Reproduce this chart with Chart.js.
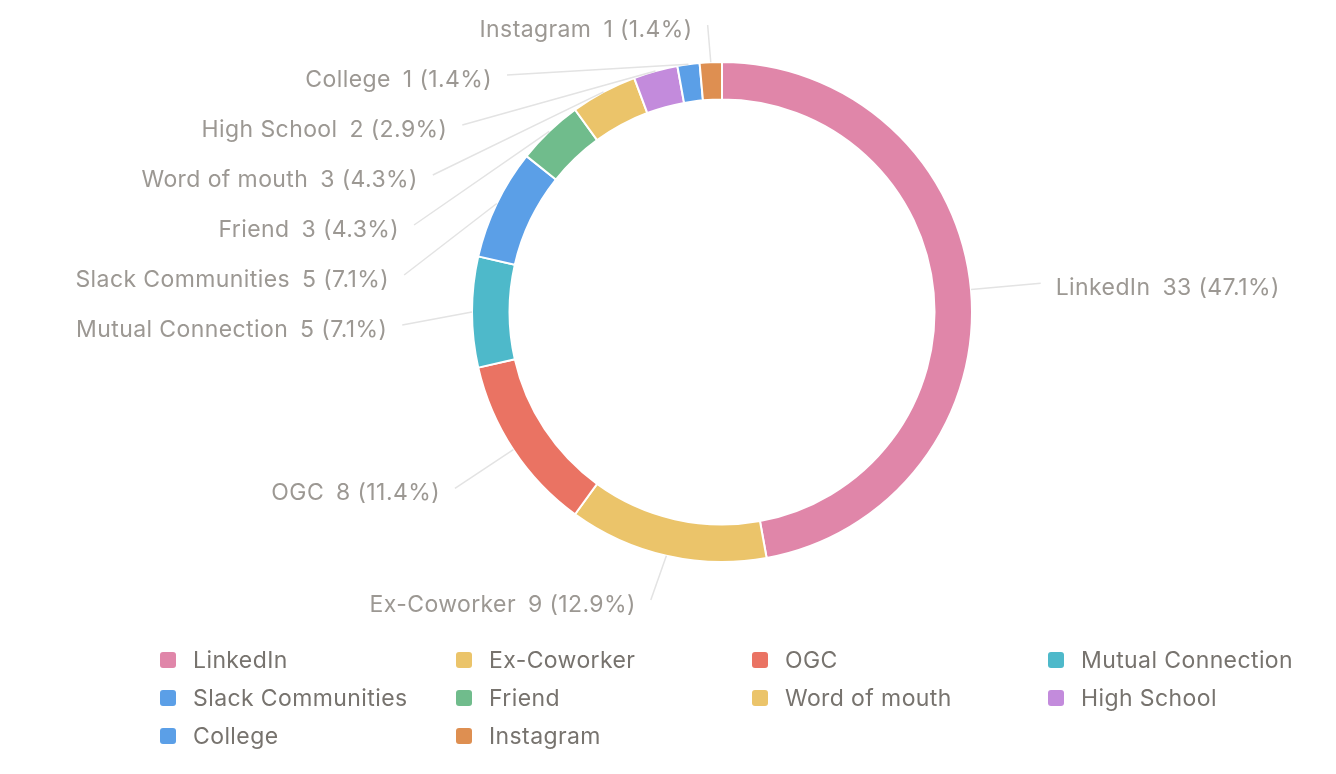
<!DOCTYPE html>
<html>
<head>
<meta charset="utf-8">
<script src="https://cdn.jsdelivr.net/npm/chart.js@4.4.1/dist/chart.umd.min.js"></script>
<style>
  html, body { margin: 0; padding: 0; background: #fff; }
  #wrap { position: relative; width: 1336px; height: 774px; }
  #legend {
    position: absolute; left: 160px; top: 641px;
    display: grid; grid-template-columns: repeat(4, 296px); grid-auto-rows: 38px;
    font-family: Inter, "Noto Sans", sans-serif; font-size: 23px; letter-spacing: 0.4px; color: #77736e;
  }
  #legend div { display: flex; align-items: center; }
  #legend span.box { width: 16px; height: 16px; border-radius: 3px; margin-right: 17px; flex: none; }
</style>
</head>
<body>
<div id="wrap">
  <canvas id="donut" width="1336" height="774"></canvas>
  <div id="legend"></div>
</div>
<script>
var sources = ['LinkedIn', 'Ex-Coworker', 'OGC', 'Mutual Connection', 'Slack Communities',
               'Friend', 'Word of mouth', 'High School', 'College', 'Instagram'];
var counts = [33, 9, 8, 5, 5, 3, 3, 2, 1, 1];
var colors = ['#e086a9', '#ebc46a', '#ea7363', '#4eb9ca', '#5b9fe7',
              '#70bc8c', '#ebc46a', '#c38bdc', '#5b9fe7', '#de8f51'];

var total = counts.reduce((a, b) => a + b, 0);

// outside labels with leader lines, spread on the left so they don't collide
var outsideLabels = {
  id: 'outsideLabels',
  afterDatasetsDraw(chart) {
    var ctx = chart.ctx;
    var arcs = chart.getDatasetMeta(0).data;
    var items = arcs.map((arc, i) => {
      var mid = (arc.startAngle + arc.endAngle) / 2;
      var R = arc.outerRadius;
      var lr = R + 70;
      return {
        i: i, cx: arc.x, cy: arc.y, lr: lr,
        sx: arc.x + Math.cos(mid) * R, sy: arc.y + Math.sin(mid) * R,
        ex: arc.x + Math.cos(mid) * lr, ey: arc.y + Math.sin(mid) * lr,
        left: Math.cos(mid) < 0
      };
    });
    var minY = 25, maxY = 600, gap = 50;
    [true, false].forEach(side => {
      var list = items.filter(d => d.left === side).sort((a, b) => a.ey - b.ey);
      var prev = -Infinity;
      list.forEach(d => {
        var y = Math.min(Math.max(d.ey, minY), maxY);
        if (y < prev + gap) {
          y = prev + gap;
          var dy = y - d.cy;
          var dx = Math.sqrt(Math.max(d.lr * d.lr - dy * dy, 0));
          d.ex = d.cx + (side ? -dx : dx);
        }
        d.ey = y;
        prev = y;
      });
    });
    ctx.save();
    ctx.font = '23px Inter, "Noto Sans", sans-serif';
    ctx.letterSpacing = '0.4px';
    ctx.textBaseline = 'middle';
    ctx.textAlign = 'left';
    items.forEach(d => {
      ctx.strokeStyle = '#e3e3e3';
      ctx.lineWidth = 1.5;
      ctx.beginPath();
      ctx.moveTo(d.sx, d.sy);
      ctx.lineTo(d.ex, d.ey);
      ctx.stroke();
      var pct = (counts[d.i] / total * 100).toFixed(1);
      var name = sources[d.i];
      var rest = counts[d.i] + ' (' + pct + '%)';
      var w1 = ctx.measureText(name).width;
      var w2 = ctx.measureText(rest).width;
      var space = 12;
      var x = d.left ? d.ex - 15 - (w1 + space + w2) : d.ex + 15;
      ctx.fillStyle = '#9c9893';
      ctx.fillText(name, x, d.ey + 5);
      ctx.fillText(rest, x + w1 + space, d.ey + 5);
    });
    ctx.restore();
  }
};

new Chart(document.getElementById('donut'), {
  type: 'doughnut',
  data: {
    labels: sources,
    datasets: [{
      data: counts,
      backgroundColor: colors,
      borderColor: '#ffffff',
      borderWidth: 2
    }]
  },
  options: {
    responsive: false,
    animation: false,
    cutout: '85%',
    layout: { padding: { left: 108, top: 61, right: 0, bottom: 211 } },
    plugins: {
      legend: { display: false },
      tooltip: { enabled: false }
    }
  },
  plugins: [outsideLabels]
});

var legend = document.getElementById('legend');
sources.forEach((s, i) => {
  var item = document.createElement('div');
  var box = document.createElement('span');
  box.className = 'box';
  box.style.background = colors[i];
  item.appendChild(box);
  item.appendChild(document.createTextNode(s));
  legend.appendChild(item);
});
</script>
</body>
</html>
